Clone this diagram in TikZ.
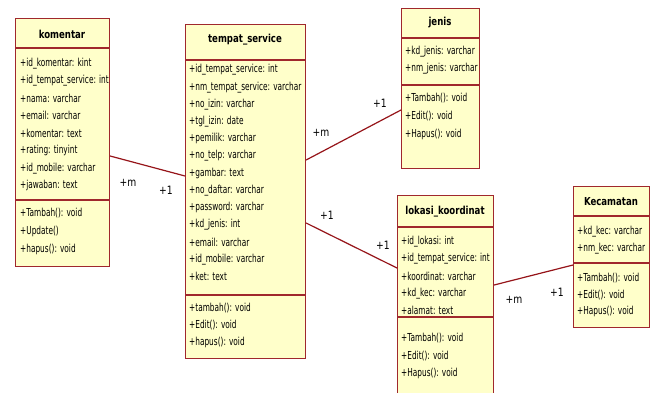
\documentclass[tikz,border=0pt]{standalone}
\usepackage{fontspec}
\newfontfamily\umlfont[FakeStretch=0.67]{DejaVu Sans}
\newfontfamily\umltitlefont[FakeStretch=0.78]{DejaVu Sans}
\newfontfamily\umlmultfont[FakeStretch=0.80]{DejaVu Sans}
\definecolor{umlfill}{RGB}{255,255,202}
\definecolor{umlborder}{RGB}{160,40,45}
\definecolor{umlline}{RGB}{150,20,25}
\tikzset{
  cls/.style={draw=umlborder, fill=umlfill, line width=1.1pt, inner sep=0pt, anchor=north west},
  ttl/.style={font=\umltitlefont\fontsize{11}{13}\selectfont\bfseries, anchor=center, inner sep=0pt},
  mem/.style={font=\umlfont\fontsize{11}{13}\selectfont, anchor=west, inner sep=0pt},
  sepline/.style={draw=umlborder, line width=1.1pt},
  assoc/.style={draw=umlline, line width=1.2pt},
  mult/.style={font=\umlmultfont\fontsize{11.5}{13}\selectfont, anchor=center, inner sep=0pt}
}
\begin{document}
\begin{tikzpicture}[x=1pt, y=-1pt]
\clip (0,0) rectangle (654,392);
\fill[white] (0,0) rectangle (654,392);

% ---- komentar ----
\node[cls, minimum width=94pt, minimum height=248pt] (kom) at (15,18) {};
\draw[sepline] (kom.west |- 0,48) -- (kom.east |- 0,48);
\draw[sepline] (kom.west |- 0,200) -- (kom.east |- 0,200);
\node[ttl] (kom-t) at (62,34) {komentar};
\foreach \t [count=\i] in {+id\_komentar: kint, +id\_tempat\_service: int, +nama: varchar,
  +email: varchar, +komentar: text, +rating: tinyint, +id\_mobile: varchar, +jawaban: text}
  \node[mem] (kom-a\i) at (20,{63.3+17.5*(\i-1)}) {\t};
\foreach \t [count=\i] in {+Tambah(): void, +Update(), +hapus(): void}
  \node[mem] (kom-m\i) at (20,{213.3+18*(\i-1)}) {\t};

% ---- tempat_service ----
\node[cls, minimum width=120pt, minimum height=334pt] (ts) at (185,24) {};
\draw[sepline] (ts.west |- 0,60) -- (ts.east |- 0,60);
\draw[sepline] (ts.west |- 0,295) -- (ts.east |- 0,295);
\node[ttl] (ts-t) at (245,40) {tempat\_service};
\foreach \t [count=\i] in {+id\_tempat\_service: int, +nm\_tempat\_service: varchar,
  +no\_izin: varchar, +tgl\_izin: date, +pemilik: varchar, +no\_telp: varchar,
  +gambar: text, +no\_daftar: varchar, +password: varchar, +kd\_jenis: int,
  +email: varchar, +id\_mobile: varchar, +ket: text}
  \node[mem] (ts-a\i) at (189,{70+17.2*(\i-1)}) {\t};
\foreach \t [count=\i] in {+tambah(): void, +Edit(): void, +hapus(): void}
  \node[mem] (ts-m\i) at (189,{308+17*(\i-1)}) {\t};

% ---- jenis ----
\node[cls, minimum width=78pt, minimum height=160pt] (jen) at (401,8) {};
\draw[sepline] (jen.west |- 0,38) -- (jen.east |- 0,38);
\draw[sepline] (jen.west |- 0,85) -- (jen.east |- 0,85);
\node[ttl] (jen-t) at (440,23) {jenis};
\foreach \t [count=\i] in {+kd\_jenis: varchar, +nm\_jenis: varchar}
  \node[mem] (jen-a\i) at (405,{51.7+17*(\i-1)}) {\t};
\foreach \t [count=\i] in {+Tambah(): void, +Edit(): void, +Hapus(): void}
  \node[mem] (jen-m\i) at (405,{98.3+18.2*(\i-1)}) {\t};

% ---- lokasi_koordinat ----
\node[cls, minimum width=96pt, minimum height=215pt] (lok) at (397,195) {};
\draw[sepline] (lok.west |- 0,227) -- (lok.east |- 0,227);
\draw[sepline] (lok.west |- 0,317) -- (lok.east |- 0,317);
\node[ttl] (lok-t) at (445,212) {lokasi\_koordinat};
\foreach \t [count=\i] in {+id\_lokasi: int, +id\_tempat\_service: int,
  +koordinat: varchar, +kd\_kec: varchar, +alamat: text}
  \node[mem] (lok-a\i) at (401,{241.7+17.2*(\i-1)}) {\t};
\foreach \t [count=\i] in {+Tambah(): void, +Edit(): void, +Hapus(): void}
  \node[mem] (lok-m\i) at (401,{338.5+17.5*(\i-1)}) {\t};

% ---- Kecamatan ----
\node[cls, minimum width=76pt, minimum height=141pt] (kec) at (573,186) {};
\draw[sepline] (kec.west |- 0,216) -- (kec.east |- 0,216);
\draw[sepline] (kec.west |- 0,263) -- (kec.east |- 0,263);
\node[ttl] (kec-t) at (611,202) {Kecamatan};
\foreach \t [count=\i] in {+kd\_kec: varchar, +nm\_kec: varchar}
  \node[mem] (kec-a\i) at (577,{231.7+16.7*(\i-1)}) {\t};
\foreach \t [count=\i] in {+Tambah(): void, +Edit(): void, +Hapus(): void}
  \node[mem] (kec-m\i) at (577,{278.3+16.7*(\i-1)}) {\t};

% ---- associations ----
\draw[assoc] (kom.east |- 0,156) -- (ts.west |- 0,176);
\node[mult] (m1a) at (128,183) {+m};
\node[mult] (m1b) at (166,190) {+1};

\draw[assoc] (ts.east |- 0,160) -- (jen.west |- 0,110);
\node[mult] (m2a) at (321,133) {+m};
\node[mult] (m2b) at (380,103) {+1};

\draw[assoc] (ts.east |- 0,223) -- (lok.west |- 0,268);
\node[mult] (m3a) at (327,215) {+1};
\node[mult] (m3b) at (383,245) {+1};

\draw[assoc] (lok.east |- 0,285) -- (kec.west |- 0,265);
\node[mult] (m4a) at (514,300) {+m};
\node[mult] (m4b) at (557,292) {+1};
\end{tikzpicture}
\end{document}
